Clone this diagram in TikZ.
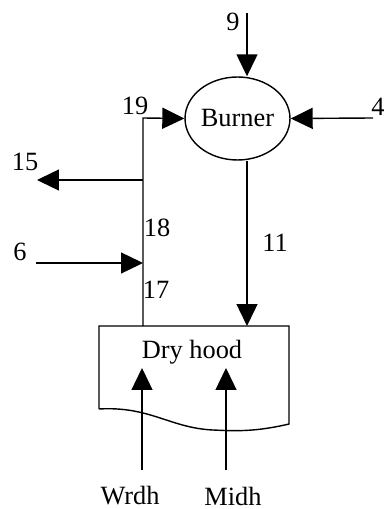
\documentclass[tikz,border=0pt]{standalone}
\usepackage{fontspec}
\setmainfont{Liberation Serif}
\usepackage{tikz}
\usetikzlibrary{arrows.meta,shapes.geometric}

\begin{document}
\begin{tikzpicture}[
  x=0.02cm, y=-0.02cm,
  every node/.style={font=\fontsize{15}{18}\selectfont},
  unit/.style={draw, ellipse, line width=0.8pt, inner sep=0pt,
               minimum width=2.1cm, minimum height=1.66cm},
  lbl/.style={inner sep=0pt},
  arr/.style={-{Triangle[length=0.44cm, width=0.42cm]}, line width=0.8pt}
]
\useasboundingbox (0,0) rectangle (385,509);
% Burner and its feeds
\node[unit] (burner) at (237.5,118.5) {Burner};
\coordinate (in9)  at (247,13);
\coordinate (in4)  at (373,118);
\coordinate (c19)  at (143,118);
\coordinate (j15)  at (143,180);
\coordinate (out15) at (37,180);
\coordinate (in6)  at (36,263);
% Dry hood
\node[lbl] (hood) at (192,352) {Dry hood};
\coordinate (boxnw) at (99,326);
\coordinate (boxne) at (289,326);
\coordinate (boxse) at (289,424);
\coordinate (boxsw) at (99,409);
\draw[line width=0.8pt] (boxsw) -- (boxnw) -- (boxne) -- (boxse)
  .. controls (255,432) and (235,431) .. (213,430)
  .. controls (170,428) and (150,406) .. (boxsw);
\coordinate (wrdh) at (142,470);
\coordinate (wrtip) at (142,368);
\coordinate (midh) at (226,470);
\coordinate (mitip) at (226,368);
% Arrows
\draw[arr] (in9) -- (in9 |- burner.north);
\draw[arr] (in4) -- (burner.east);
\draw[arr] (boxnw -| c19) -- (c19) -- (burner.west);
\draw[arr] (j15) -- (out15);
\draw[arr] (in6) -- (in6 -| c19);
\draw[arr] (burner.south -| in9) -- (boxnw -| in9);
\draw[arr] (wrdh) -- (wrtip);
\draw[arr] (midh) -- (mitip);
% Stream numbers
\node[lbl] (l9)  at (233,22)  {9};
\node[lbl] (l19) at (135,106) {19};
\node[lbl] (l4)  at (378,107) {4};
\node[lbl] (l15) at (25,162)  {15};
\node[lbl] (l18) at (157,228) {18};
\node[lbl] (l6)  at (20,252)  {6};
\node[lbl] (l11) at (275,243) {11};
\node[lbl] (l17) at (156,290) {17};
\node[lbl] (lw)  at (130,496) {Wrdh};
\node[lbl] (lm)  at (233,496) {Midh};
\end{tikzpicture}
\end{document}
